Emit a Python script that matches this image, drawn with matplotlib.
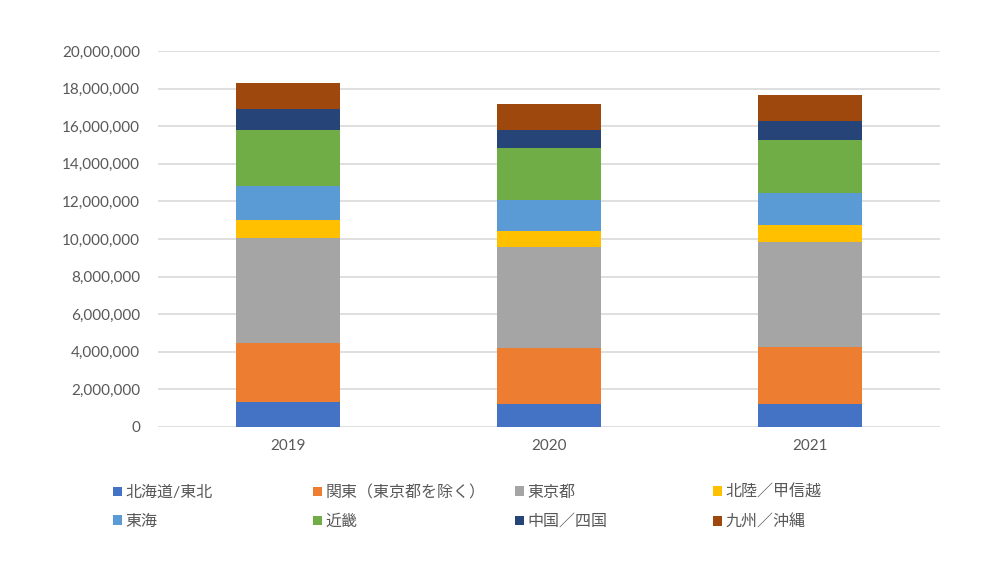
import matplotlib.pyplot as plt
import numpy as np

plt.rcParams['font.family'] = ['Lato', 'Noto Sans CJK JP', 'DejaVu Sans']

# データ
years = ['2019', '2020', '2021']
regions = ['北海道/東北', '関東（東京都を除く）', '東京都', '北陸／甲信越',
           '東海', '近畿', '中国／四国', '九州／沖縄']
hokkaido_tohoku = [1330000, 1240000, 1240000]
kanto = [3150000, 2940000, 2990000]
tokyo = [5560000, 5370000, 5600000]
hokuriku_koshinetsu = [980000, 850000, 890000]
tokai = [1820000, 1690000, 1720000]
kinki = [2950000, 2740000, 2850000]
chugoku_shikoku = [1100000, 960000, 1010000]
kyushu_okinawa = [1420000, 1370000, 1350000]

series = [hokkaido_tohoku, kanto, tokyo, hokuriku_koshinetsu,
          tokai, kinki, chugoku_shikoku, kyushu_okinawa]
colors = ['#4472C4', '#ED7D31', '#A5A5A5', '#FFC000',
          '#5B9BD5', '#70AD47', '#264478', '#9E480E']

fig = plt.figure(figsize=(10, 5.61), dpi=100)
ax = fig.add_axes([0.158, 0.239, 0.782, 0.670])

x = np.arange(len(years))
bottom = np.zeros(len(years))
handles = []
for vals, col, name in zip(series, colors, regions):
    b = ax.bar(x, vals, width=0.40, bottom=bottom, color=col, label=name, zorder=3)
    handles.append(b)
    bottom += np.array(vals)

# 軸設定
ax.set_xlim(-0.5, 2.5)
ax.set_ylim(0, 20000000)
ax.set_yticks(np.arange(0, 20000001, 2000000))
ax.yaxis.set_major_formatter(plt.FuncFormatter(lambda v, p: f'{int(v):,}'))
ax.set_xticks(x)
ax.set_xticklabels(years)
ax.grid(axis='y', color='#D9D9D9', linewidth=1.2, zorder=0)
for s in ax.spines.values():
    s.set_visible(False)
ax.tick_params(axis='both', length=0, labelsize=11, colors='#595959')
ax.tick_params(axis='y', pad=13)
ax.tick_params(axis='x', pad=9)

# 凡例（4列、横方向の並び）
col_x = [0.105, 0.305, 0.507, 0.705]
for i, cx in enumerate(col_x):
    leg = fig.legend([handles[i], handles[i + 4]], [regions[i], regions[i + 4]],
                     loc='center left', bbox_to_anchor=(cx, 0.096), frameon=False,
                     fontsize=11.5, handlelength=0.55, handleheight=0.55,
                     handletextpad=0.25, labelspacing=0.9, borderpad=0,
                     labelcolor='#595959')

fig.savefig('out.png', dpi=100)
